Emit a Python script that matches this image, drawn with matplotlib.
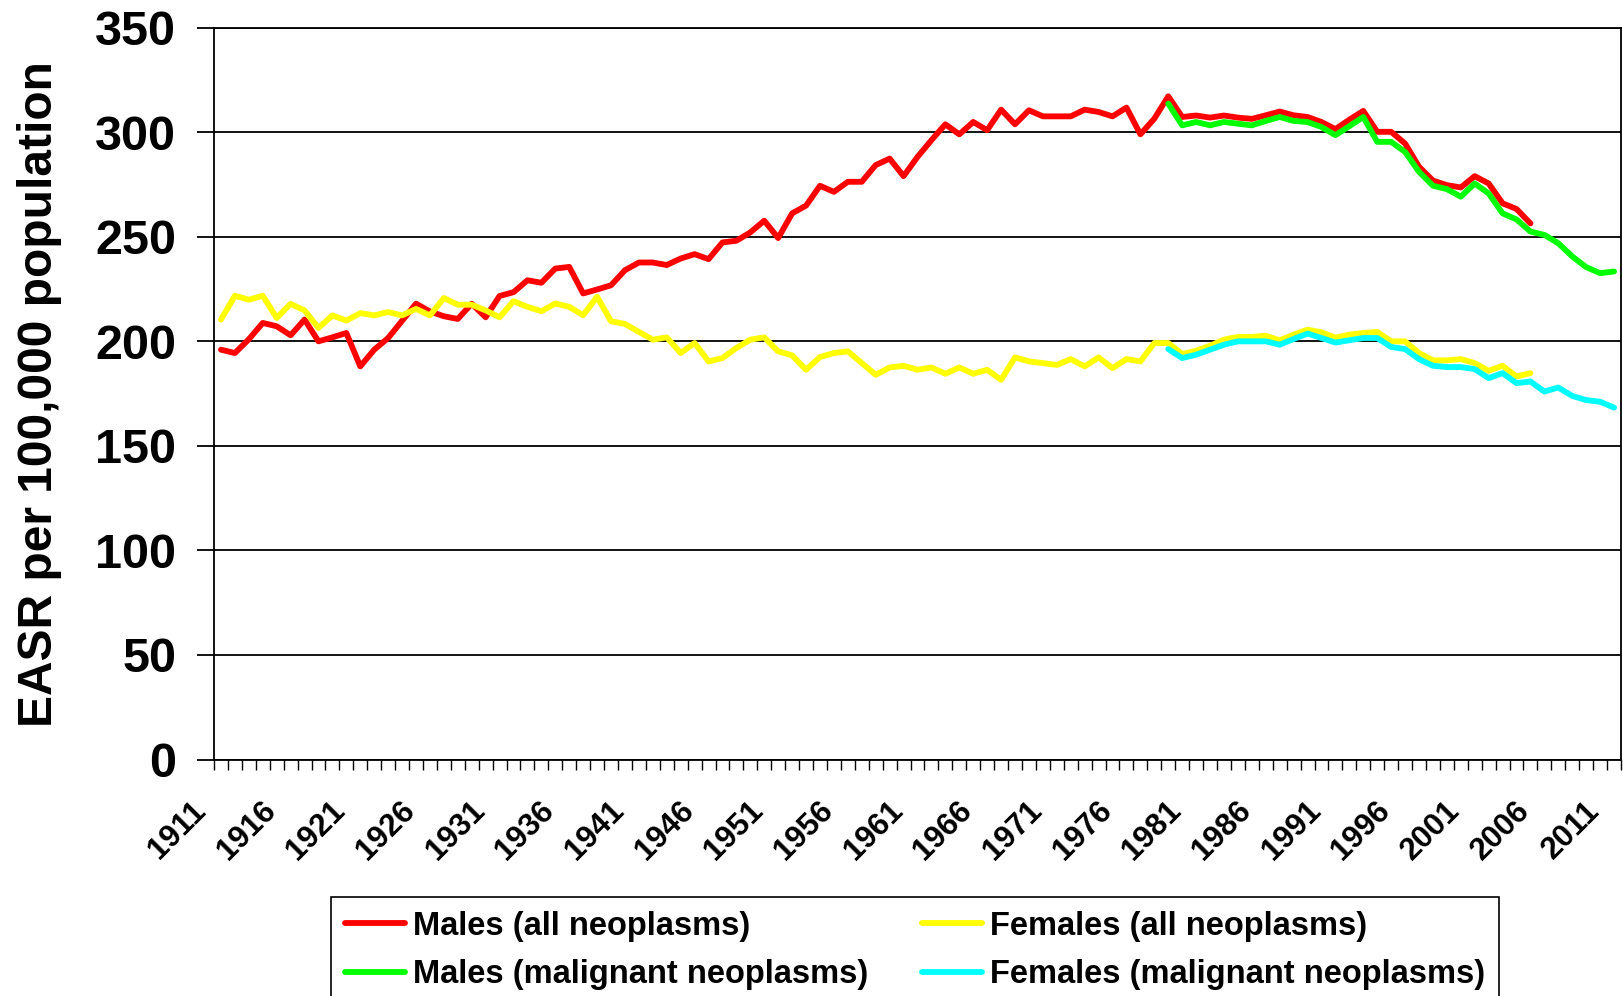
import matplotlib
matplotlib.use("Agg")
import matplotlib.pyplot as plt
import matplotlib.transforms as mtransforms
import numpy as np

plt.rcParams['font.family'] = ['Liberation Sans', 'DejaVu Sans']
plt.rcParams['font.weight'] = 'bold'

# ---------------- data ----------------
years_all = list(range(1911, 2006))      # all neoplasms series
years_malig = list(range(1979, 2012))    # malignant neoplasms series
tick_years = list(range(1911, 2012, 5))

males_all = [
    196.0, 194.4, 201.0, 208.8, 207.2, 202.9, 210.4, 200.0, 201.9, 204.0,
    188.0, 196.0, 201.6, 209.8, 218.0, 214.3, 212.0, 210.7, 218.0, 211.5,
    221.7, 223.5, 229.2, 228.0, 234.8, 235.6, 222.9, 224.8, 226.8, 234.0,
    237.7, 237.7, 236.5, 239.6, 241.7, 239.3, 247.3, 248.1, 252.1, 257.7,
    249.4, 261.2, 264.9, 274.4, 271.5, 276.3, 276.3, 284.3, 287.4, 279.0,
    288.2, 296.2, 303.8, 299.0, 304.9, 301.0, 310.8, 303.8, 310.5, 307.6,
    307.6, 307.6, 310.8, 309.7, 307.6, 311.8, 299.0, 306.5, 317.2, 307.3,
    308.0, 307.0, 308.0, 307.0, 306.4, 308.1, 309.9, 308.1, 307.3, 304.9,
    301.5, 306.0, 310.2, 300.2, 300.2, 294.6, 283.5, 276.9, 274.7, 273.6,
    279.0, 275.5, 266.0, 263.3, 256.4,
]

females_all = [
    210.4, 221.8, 219.9, 221.8, 211.2, 217.9, 214.8, 206.4, 212.4, 209.9,
    213.5, 212.4, 214.0, 212.4, 215.5, 212.4, 220.7, 217.5, 217.5, 214.8,
    211.5, 219.2, 216.5, 214.4, 218.1, 216.5, 212.5, 221.3, 209.6, 208.3,
    204.5, 200.8, 201.9, 194.4, 199.2, 190.4, 192.0, 196.8, 200.8, 201.9,
    195.2, 193.3, 186.4, 192.5, 194.4, 195.2, 189.6, 184.0, 187.5, 188.3,
    186.4, 187.5, 184.5, 187.5, 184.5, 186.4, 181.6, 192.3, 190.4, 189.6,
    188.7, 191.5, 188.0, 192.3, 187.2, 191.5, 190.4, 199.2, 199.2, 193.9,
    195.5, 197.9, 200.8, 202.1, 202.1, 202.7, 200.5, 203.2, 205.6, 204.3,
    201.8, 203.2, 204.0, 204.5, 200.0, 200.0, 194.4, 190.9, 190.9, 191.5,
    189.6, 185.9, 188.3, 183.2, 184.8,
]

males_malig = [
    313.7, 303.3, 304.9, 303.3, 304.9, 304.1, 303.3, 305.4, 307.3, 305.4,
    304.9, 302.5, 298.6, 302.9, 307.3, 295.4, 295.4, 290.6, 281.1, 274.4,
    272.8, 269.2, 275.5, 270.7, 261.2, 258.3, 252.5, 250.9, 246.9, 240.6,
    235.5, 232.6, 233.4,
]

females_malig = [
    196.3, 192.0, 193.6, 196.0, 198.4, 200.0, 200.0, 200.0, 198.4, 201.1,
    203.7, 201.6, 199.4, 200.5, 201.6, 201.6, 197.3, 196.3, 191.5, 188.3,
    187.7, 187.7, 186.7, 182.4, 184.8, 180.0, 180.8, 176.0, 177.9, 173.9,
    171.9, 171.1, 168.3,
]

labels = ["Males (all neoplasms)", "Females (all neoplasms)",
          "Males (malignant neoplasms)", "Females (malignant neoplasms)"]
colors = ["#FF0000", "#FFFF00", "#00FF00", "#00FFFF"]

# ---------------- figure ----------------
W, H = 1624, 996
fig = plt.figure(figsize=(W / 100, H / 100), dpi=100)
ax = fig.add_axes([214 / W, 1 - 759.5 / H, (1621 - 214) / W, (759.5 - 27.7) / H])

lw = 4.2
l_ma, = ax.plot(years_all, males_all, color=colors[0], lw=lw, label=labels[0],
                solid_joinstyle='round', solid_capstyle='round')
l_fa, = ax.plot(years_all, females_all, color=colors[1], lw=lw, label=labels[1],
                solid_joinstyle='round', solid_capstyle='round')
l_mm, = ax.plot(years_malig, males_malig, color=colors[2], lw=lw, label=labels[2],
                solid_joinstyle='round', solid_capstyle='round')
l_fm, = ax.plot(years_malig, females_malig, color=colors[3], lw=lw, label=labels[3],
                solid_joinstyle='round', solid_capstyle='round')

ax.set_xlim(1910.5, 2011.5)
ax.set_ylim(0, 350)

ax.set_yticks(range(0, 351, 50))
ax.yaxis.grid(True, color='black', lw=1.3)
ax.set_axisbelow(True)
ax.tick_params(axis='y', direction='out', length=12.2, width=1.3, pad=15,
               labelsize=35, colors='black')

ax.set_xticks(tick_years)
ax.set_xticklabels([str(y) for y in tick_years])
ax.set_xticks(np.arange(1910.5, 2012.0, 1.0), minor=True)
ax.tick_params(axis='x', which='major', length=0, pad=26, labelsize=22.5)
ax.tick_params(axis='x', which='minor', direction='out', length=7.5, width=1.0)

for sp in ax.spines.values():
    sp.set_color('black')
    sp.set_linewidth(1.3)

for lab in ax.get_yticklabels():
    lab.set_fontweight('bold')
offset = mtransforms.ScaledTranslation(-0.30, 0, fig.dpi_scale_trans)
for lab in ax.get_xticklabels():
    lab.set_fontweight('bold')
    lab.set_rotation(45)
    lab.set_ha('right')
    lab.set_va('top')
    lab.set_rotation_mode('anchor')
    lab.set_transform(lab.get_transform() + offset)

ax.set_ylabel("EASR per 100,000 population", fontsize=34.5, fontweight='bold')
ax.yaxis.set_label_coords(-0.108, 0.5)

leg = fig.legend(handles=[l_ma, l_mm, l_fa, l_fm], loc='upper left',
                 bbox_to_anchor=(331 / W, 1 - 897 / H), ncol=2,
                 frameon=True, fancybox=False, edgecolor='black', framealpha=1,
                 borderaxespad=0, prop={'size': 23.5, 'weight': 'bold'},
                 handlelength=1.84, handletextpad=0.25, columnspacing=1.65,
                 labelspacing=0.54, borderpad=0.42)
leg.get_frame().set_linewidth(1.2)

fig.savefig("out.png", dpi=100)
